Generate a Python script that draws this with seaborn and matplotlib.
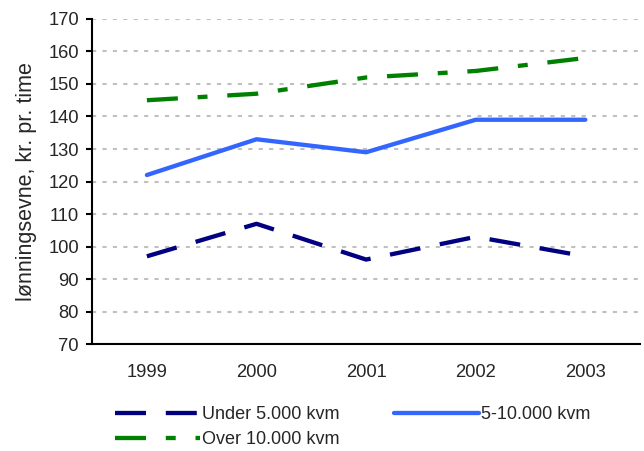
import pandas as pd
import matplotlib
matplotlib.use("Agg")
import matplotlib.pyplot as plt
import seaborn as sns

years = ["1999", "2000", "2001", "2002", "2003"]
under_5000 = [97, 107, 96, 103, 97]
mellem_5_10000 = [122, 133, 129, 139, 139]
over_10000 = [145, 147, 152, 154, 158]

series_names = ["Under 5.000 kvm", "5-10.000 kvm", "Over 10.000 kvm"]

df = pd.DataFrame({
    "år": list(range(len(years))) * 3,
    "værdi": under_5000 + mellem_5_10000 + over_10000,
    "gruppe": [s for s in series_names for _ in years],
})

sns.set_style("white")
plt.rcParams["font.family"] = ["Liberation Sans", "DejaVu Sans"]

fig = plt.figure(figsize=(6.44, 4.51), dpi=100)
ax = fig.add_axes([0.143, 0.237, 0.851, 0.721])

farver = {"Under 5.000 kvm": "#000080", "5-10.000 kvm": "#3366FF", "Over 10.000 kvm": "#008000"}
streger = {"Under 5.000 kvm": (7.2, 4.6), "5-10.000 kvm": "", "Over 10.000 kvm": (7.2, 4.6, 2.3, 4.6)}

sns.lineplot(data=df, x="år", y="værdi", hue="gruppe", style="gruppe",
             palette=farver, dashes=streger, linewidth=3.1, ax=ax, legend=False)

ax.set_ylim(70, 170)
ax.set_yticks(range(70, 171, 10))
ax.set_xlim(-0.5, len(years) - 0.5)
ax.set_xticks(range(len(years)))
ax.set_xticklabels(years)
ax.set_xticks([i - 0.5 for i in range(len(years) + 1)], minor=True)
ax.tick_params(axis="x", which="major", length=0, pad=14, labelsize=13.2)
ax.tick_params(axis="x", which="minor", length=5, width=1.5, direction="in", color="black")
ax.tick_params(axis="y", length=4.5, width=1.5, direction="out", color="black", labelsize=13.2,
               left=True, pad=5)

ax.yaxis.grid(True, color="#C0C0C0", linestyle=(0, (2, 3)), linewidth=1.5)
ax.set_axisbelow(True)
for side in ["top", "right"]:
    ax.spines[side].set_visible(False)
for side in ["left", "bottom"]:
    ax.spines[side].set_color("black")
    ax.spines[side].set_linewidth(1.5)

ax.set_xlabel("")
ax.set_ylabel("lønningsevne, kr. pr. time", fontsize=15.5, labelpad=8)

# legend: rækkefølge så Under og 5-10 står i første række
orden = ["Under 5.000 kvm", "Over 10.000 kvm", "5-10.000 kvm"]
handles = []
for s in orden:
    h = plt.Line2D([], [], color=farver[s], linewidth=3.1)
    if streger[s]:
        h.set_dashes(streger[s])
    handles.append(h)
fig.legend(handles, orden, loc="upper left", bbox_to_anchor=(0.165, 0.12),
           ncol=2, frameon=False, fontsize=13, handlelength=4.7, handletextpad=0.12,
           columnspacing=3.0, labelspacing=0.45, borderpad=0)

fig.savefig("out.png", dpi=100)
